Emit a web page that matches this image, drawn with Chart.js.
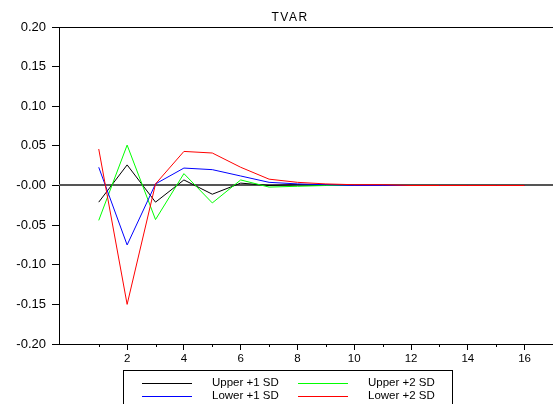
<!DOCTYPE html>
<html>
<head>
<meta charset="utf-8">
<title>TVAR</title>
<script src="https://cdn.jsdelivr.net/npm/chart.js@4/dist/chart.umd.min.js"></script>
<style>
  html, body { margin: 0; padding: 0; background: #fff; }
  #wrap { width: 553px; height: 404px; }
</style>
</head>
<body>
<div id="wrap"><canvas id="tvar" width="553" height="404"></canvas></div>
<script>
// response horizon
var steps = [1, 2, 3, 4, 5, 6, 7, 8, 9, 10, 11, 12, 13, 14, 15, 16];
var xMajorTicks = [2, 4, 6, 8, 10, 12, 14, 16];
var xMinorTicks = [1, 3, 5, 7, 9, 11, 13, 15];

// bands
var upper1 = [-0.021, 0.026, -0.021, 0.007, -0.011, 0.003, 0.000, 0.001, 0.000, 0.000, 0.000, 0.000, 0.000, 0.000, 0.000, 0.000];
var lower1 = [0.023, -0.075, 0.002, 0.022, 0.020, 0.012, 0.004, 0.002, 0.001, 0.000, 0.000, 0.000, 0.000, 0.000, 0.000, 0.000];
var upper2 = [-0.044, 0.051, -0.043, 0.015, -0.022, 0.007, -0.002, -0.001, 0.000, 0.000, 0.000, 0.000, 0.000, 0.000, 0.000, 0.000];
var lower2 = [0.046, -0.150, 0.002, 0.043, 0.041, 0.023, 0.008, 0.004, 0.002, 0.001, 0.001, 0.000, 0.000, 0.000, 0.000, 0.000];

var FONT = 'Liberation Sans, Arial, sans-serif';

function pts(vals) {
    return vals.map(function(v, i) { return { x: steps[i], y: v }; });
}

function series(label, vals, color, order) {
    return {
        label: label,
        data: pts(vals),
        borderColor: color,
        backgroundColor: color,
        borderWidth: 1,
        pointRadius: 0,
        tension: 0,
        fill: false,
        order: order
    };
}

// frame, zero line, minor ticks, title and legend box
var decor = {
    id: 'decor',
    beforeDatasetsDraw: function(chart) {
        var ctx = chart.ctx, a = chart.chartArea;
        var x = chart.scales.x, y = chart.scales.y;
        ctx.save();
        // top frame
        ctx.strokeStyle = '#000';
        ctx.lineWidth = 1;
        ctx.beginPath();
        ctx.moveTo(a.left - 7, Math.round(a.top) + 0.5);
        ctx.lineTo(a.right, Math.round(a.top) + 0.5);
        ctx.stroke();
        // zero line, sits half under the series
        var y0 = Math.floor(y.getPixelForValue(0));
        ctx.strokeStyle = '#555';
        ctx.lineWidth = 2;
        ctx.beginPath();
        ctx.moveTo(a.left, y0);
        ctx.lineTo(a.right, y0);
        ctx.stroke();
        // minor ticks on x
        ctx.strokeStyle = '#000';
        ctx.lineWidth = 1;
        xMinorTicks.forEach(function(t) {
            var px = Math.round(x.getPixelForValue(t)) + 0.5;
            ctx.beginPath();
            ctx.moveTo(px, a.bottom);
            ctx.lineTo(px, a.bottom + 3);
            ctx.stroke();
        });
        ctx.restore();
    },
    afterDraw: function(chart) {
        var ctx = chart.ctx;
        ctx.save();
        // title
        ctx.fillStyle = '#000';
        ctx.font = '12px ' + FONT;
        ctx.textAlign = 'center';
        ctx.textBaseline = 'middle';
        if ('letterSpacing' in ctx) ctx.letterSpacing = '1.5px';
        ctx.fillText('TVAR', 290, 18);
        if ('letterSpacing' in ctx) ctx.letterSpacing = '0px';

        // legend
        ctx.strokeStyle = '#000';
        ctx.lineWidth = 1;
        ctx.strokeRect(123.5, 370.5, 329, 40);
        var cols = [{ lx: 142, tx: 212 }, { lx: 298, tx: 368 }];
        var rows = [383, 396];
        var cells = [
            [chart.data.datasets[0], 0, 0],
            [chart.data.datasets[1], 0, 1],
            [chart.data.datasets[2], 1, 0],
            [chart.data.datasets[3], 1, 1]
        ];
        ctx.font = '11.5px ' + FONT;
        ctx.textAlign = 'left';
        cells.forEach(function(c) {
            var ds = c[0], col = cols[c[1]], ry = rows[c[2]];
            ctx.strokeStyle = ds.borderColor;
            ctx.beginPath();
            ctx.moveTo(col.lx, ry + 0.5);
            ctx.lineTo(col.lx + 50, ry + 0.5);
            ctx.stroke();
            ctx.fillStyle = '#000';
            ctx.fillText(ds.label, col.tx, ry);
        });
        ctx.restore();
    }
};

var chart = new Chart(document.getElementById('tvar'), {
    type: 'line',
    data: {
        datasets: [
            series('Upper +1 SD', upper1, '#000000', 3),
            series('Lower +1 SD', lower1, '#0000ff', 1),
            series('Upper +2 SD', upper2, '#00ff00', 2),
            series('Lower +2 SD', lower2, '#ff0000', 0)
        ]
    },
    options: {
        responsive: false,
        animation: false,
        devicePixelRatio: 1,
        layout: { padding: { top: 27, right: 0, left: 0, bottom: 0 } },
        plugins: {
            legend: { display: false },
            title: { display: false },
            tooltip: { enabled: false }
        },
        scales: {
            x: {
                type: 'linear',
                min: -0.4,
                max: 17,
                afterBuildTicks: function(scale) {
                    scale.ticks = xMajorTicks.map(function(v) { return { value: v }; });
                },
                afterFit: function(scale) { scale.height = 60; },
                grid: { display: true, drawOnChartArea: false, tickLength: 6, tickColor: '#000' },
                border: { display: true, color: '#000', width: 1 },
                ticks: {
                    color: '#000',
                    font: { family: FONT, size: 11.5 },
                    padding: 2,
                    maxRotation: 0,
                    autoSkip: false
                }
            },
            y: {
                min: -0.2,
                max: 0.2,
                afterFit: function(scale) { scale.width = 59; },
                grid: { display: true, drawOnChartArea: false, tickLength: 7, tickColor: '#000' },
                border: { display: true, color: '#000', width: 1 },
                ticks: {
                    stepSize: 0.05,
                    color: '#000',
                    font: { family: FONT, size: 13 },
                    padding: 6,
                    callback: function(v) {
                        var s = Math.abs(v) < 1e-9 ? '-0.00' : v.toFixed(2);
                        return s;
                    }
                }
            }
        }
    },
    plugins: [decor]
});
</script>
</body>
</html>
